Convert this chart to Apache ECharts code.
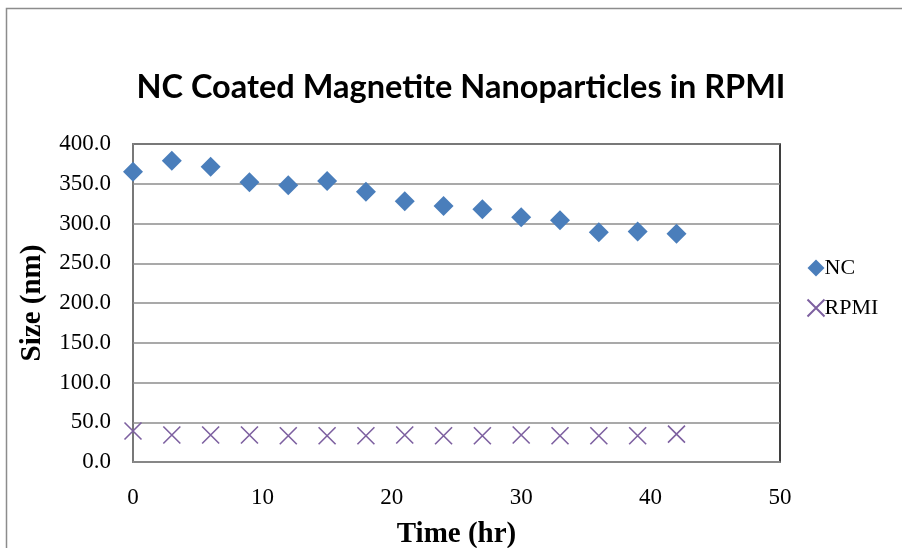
<!DOCTYPE html>
<html>
<head>
<meta charset="utf-8">
<script src="https://cdn.jsdelivr.net/npm/echarts@6/dist/echarts.min.js"></script>
<style>
  html, body { margin: 0; padding: 0; background: #fff; }
  #chart { width: 902px; height: 548px; }
</style>
</head>
<body>
<div id="chart"></div>
<script>
// time points (hr)
var hours = [0, 3, 6, 9, 12, 15, 18, 21, 24, 27, 30, 33, 36, 39, 42];
// particle size (nm)
var ncSize = [365, 379, 371.5, 352, 348, 353.5, 340, 328, 322, 318, 308, 304, 289, 290, 287];
var rpmiSize = [39, 34, 34, 34, 33, 33, 33, 34, 33, 33, 34, 33, 33, 33, 35];

function pairs(xs, ys) {
    var out = [];
    for (var i = 0; i < xs.length; i++) out.push([xs[i], ys[i]]);
    return out;
}

var myChart = echarts.init(document.getElementById('chart'));
var serif = '"Liberation Serif", "Times New Roman", serif';

option = {
    animation: false,
    backgroundColor: '#fff',
    title: {
        text: 'NC Coated Magnetite Nanoparticles in RPMI',
        left: 456,
        textAlign: 'center',
        top: 66,
        textStyle: {
            fontFamily: 'Lato, "Open Sans", sans-serif',
            fontSize: 32.5,
            fontWeight: 'bold',
            color: '#000'
        }
    },
    graphic: [{
        type: 'rect',
        shape: { x: 6.5, y: 8.5, width: 1000, height: 1000 },
        style: { fill: 'none', stroke: '#8c8c8c', lineWidth: 1.5 },
        silent: true
    }],
    legend: {
        orient: 'vertical',
        left: 800,
        top: 252,
        itemGap: 18,
        itemWidth: 17,
        itemHeight: 17,
        selectedMode: false,
        textStyle: { fontFamily: serif, fontSize: 22, color: '#000', padding: [0, 0, 0, -5] },
        data: ['NC', 'RPMI']
    },
    grid: {
        left: 133,
        top: 144,
        width: 647,
        height: 318,
        outerBoundsMode: 'none',
        containLabel: false,
        show: true,
        borderColor: '#000',
        borderWidth: 1.5
    },
    xAxis: {
        type: 'value',
        min: 0,
        max: 50,
        interval: 10,
        name: 'Time (hr)',
        nameLocation: 'middle',
        nameGap: 58,
        nameTextStyle: { fontFamily: serif, fontSize: 29, fontWeight: 'bold', color: '#000' },
        axisLine: { lineStyle: { color: '#8c8c8c', width: 1.5 } },
        axisTick: { show: false },
        splitLine: { show: false },
        axisLabel: { fontFamily: serif, fontSize: 23, color: '#000', margin: 24 }
    },
    yAxis: {
        type: 'value',
        min: 0,
        max: 400,
        interval: 50,
        name: 'Size (nm)',
        nameLocation: 'middle',
        nameGap: 86,
        nameTextStyle: { fontFamily: serif, fontSize: 29, fontWeight: 'bold', color: '#000' },
        axisLine: { show: true, lineStyle: { color: '#8c8c8c', width: 1.5 } },
        axisTick: { show: false },
        splitLine: { lineStyle: { color: '#8c8c8c', width: 1.5 } },
        axisLabel: {
            fontFamily: serif, fontSize: 23, color: '#000', margin: 22,
            formatter: function (v) { return v.toFixed(1); }
        }
    },
    series: [
        {
            name: 'NC',
            type: 'scatter',
            symbol: 'diamond',
            symbolSize: 20,
            itemStyle: { color: '#4a7ebb', opacity: 1 },
            data: pairs(hours, ncSize)
        },
        {
            name: 'RPMI',
            type: 'scatter',
            symbol: 'path://M0,0L10,10M10,0L0,10',
            symbolSize: 17,
            itemStyle: { color: 'none', borderColor: '#7d60a0', borderWidth: 1.6, opacity: 1 },
            data: pairs(hours, rpmiSize)
        }
    ]
};
myChart.setOption(option);
</script>
</body>
</html>
